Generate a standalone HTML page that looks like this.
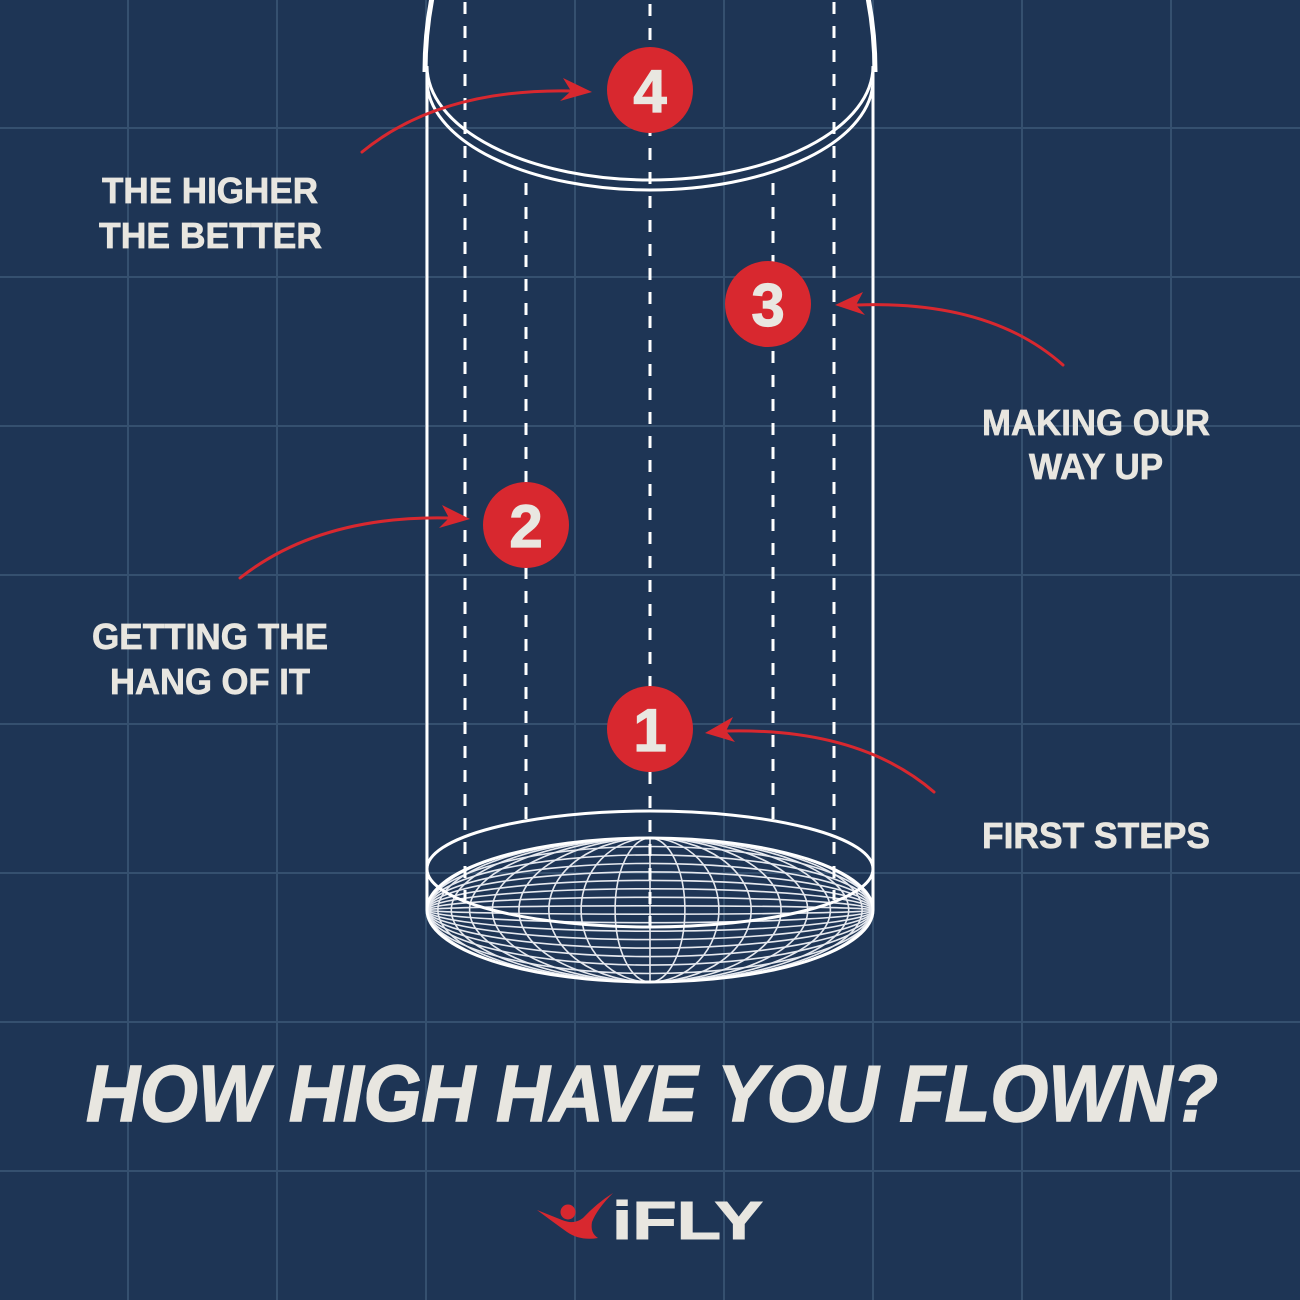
<!DOCTYPE html>
<html>
<head>
<meta charset="utf-8">
<style>
  html, body { margin:0; padding:0; background:#1e3555; }
  svg { display:block; }
  text { font-family: "Liberation Sans", "DejaVu Sans", sans-serif; }
</style>
</head>
<body>
<svg width="1300" height="1300" viewBox="0 0 1300 1300" xmlns="http://www.w3.org/2000/svg">
  <defs>
    <clipPath id="netclip">
      <ellipse cx="650" cy="910" rx="223" ry="72"/>
    </clipPath>
  </defs>
  <rect x="0" y="0" width="1300" height="1300" fill="#1e3555"/>

  <!-- grid -->
  <g stroke="#35506f" stroke-width="2">
    <line x1="128" y1="0" x2="128" y2="1300"/>
    <line x1="277" y1="0" x2="277" y2="1300"/>
    <line x1="426" y1="0" x2="426" y2="1300"/>
    <line x1="575" y1="0" x2="575" y2="1300"/>
    <line x1="724" y1="0" x2="724" y2="1300"/>
    <line x1="873" y1="0" x2="873" y2="1300"/>
    <line x1="1022" y1="0" x2="1022" y2="1300"/>
    <line x1="1171" y1="0" x2="1171" y2="1300"/>
    <line x1="0" y1="128" x2="1300" y2="128"/>
    <line x1="0" y1="277" x2="1300" y2="277"/>
    <line x1="0" y1="426" x2="1300" y2="426"/>
    <line x1="0" y1="575" x2="1300" y2="575"/>
    <line x1="0" y1="724" x2="1300" y2="724"/>
    <line x1="0" y1="873" x2="1300" y2="873"/>
    <line x1="0" y1="1022" x2="1300" y2="1022"/>
    <line x1="0" y1="1171" x2="1300" y2="1171"/>
  </g>

  <!-- net -->
  <g clip-path="url(#netclip)" fill="none" stroke="#e6e9ef" stroke-width="1.6">
    <path d="M427,910 A223,63.5 0 0 1 873,910"/>
    <path d="M427,910 A223,55.1 0 0 1 873,910"/>
    <path d="M427,910 A223,46.6 0 0 1 873,910"/>
    <path d="M427,910 A223,38.1 0 0 1 873,910"/>
    <path d="M427,910 A223,29.6 0 0 1 873,910"/>
    <path d="M427,910 A223,21.2 0 0 1 873,910"/>
    <path d="M427,910 A223,12.7 0 0 1 873,910"/>
    <path d="M427,910 A223,4.2 0 0 1 873,910"/>
    <path d="M427,910 A223,4.2 0 0 0 873,910"/>
    <path d="M427,910 A223,12.7 0 0 0 873,910"/>
    <path d="M427,910 A223,21.2 0 0 0 873,910"/>
    <path d="M427,910 A223,29.6 0 0 0 873,910"/>
    <path d="M427,910 A223,38.1 0 0 0 873,910"/>
    <path d="M427,910 A223,46.6 0 0 0 873,910"/>
    <path d="M427,910 A223,55.1 0 0 0 873,910"/>
    <path d="M427,910 A223,63.5 0 0 0 873,910"/>
    <line x1="650" y1="838" x2="650" y2="982"/>
    <ellipse cx="650" cy="910" rx="34.9" ry="72"/>
    <ellipse cx="650" cy="910" rx="68.9" ry="72"/>
    <ellipse cx="650" cy="910" rx="101.2" ry="72"/>
    <ellipse cx="650" cy="910" rx="131.1" ry="72"/>
    <ellipse cx="650" cy="910" rx="157.7" ry="72"/>
    <ellipse cx="650" cy="910" rx="180.4" ry="72"/>
    <ellipse cx="650" cy="910" rx="198.7" ry="72"/>
    <ellipse cx="650" cy="910" rx="212.1" ry="72"/>
    <ellipse cx="650" cy="910" rx="220.3" ry="72"/>
  </g>

  <!-- cylinder structure -->
  <g fill="none" stroke="#ffffff">
    <path d="M425,72 A225,300 0 0 1 875,72" stroke-width="5"/>
    <path d="M427,66 A223,114 0 0 0 873,66" stroke-width="3"/>
    <path d="M427,80 A223,110 0 0 0 873,80" stroke-width="3"/>
    <line x1="427" y1="66" x2="427" y2="910" stroke-width="3"/>
    <line x1="873" y1="66" x2="873" y2="910" stroke-width="3"/>
    <ellipse cx="650" cy="869" rx="223" ry="58" stroke-width="3"/>
    <ellipse cx="650" cy="910" rx="223" ry="72" stroke-width="3"/>
  </g>

  <!-- dashed lines -->
  <g stroke="#ffffff" stroke-width="3" stroke-dasharray="12 12">
    <line x1="650" y1="0" x2="650" y2="928" stroke-dashoffset="20"/>
    <line x1="465" y1="0" x2="465" y2="900" stroke-dashoffset="22"/>
    <line x1="834" y1="0" x2="834" y2="900" stroke-dashoffset="22"/>
    <line x1="526" y1="183" x2="526" y2="820"/>
    <line x1="773" y1="183" x2="773" y2="820"/>
  </g>

  <!-- arrows -->
  <g fill="none" stroke="#d8282f" stroke-width="3" stroke-linecap="round">
    <path d="M362,152 Q440,88 573,91"/>
    <path d="M1063,365 Q990,300 857,305"/>
    <path d="M240,578 Q320,515 449,518"/>
    <path d="M934,792 Q860,728 727,731"/>
  </g>
  <g fill="#d8282f">
    <polygon points="592,92 563,78 571,91 560,101"/>
    <polygon points="835,305 863,292 856,305 865,315"/>
    <polygon points="470,519 442,505 449,518 439,528"/>
    <polygon points="705,733 733,717 726,731 735,742"/>
  </g>

  <!-- number circles -->
  <g fill="#d8282f">
    <circle cx="650" cy="90" r="43"/>
    <circle cx="768" cy="304" r="43"/>
    <circle cx="526" cy="525" r="43"/>
    <circle cx="650" cy="729" r="43"/>
  </g>
  <g fill="#e9e7e1" stroke="#e9e7e1" stroke-width="1.2" font-weight="bold" font-size="60" text-anchor="middle">
    <text x="650" y="112">4</text>
    <text x="768" y="326">3</text>
    <text x="526" y="547">2</text>
    <text x="650" y="751">1</text>
  </g>

  <!-- labels -->
  <g fill="#e8e6e0" stroke="#e8e6e0" stroke-width="0.7" font-weight="bold" font-size="36">
    <text x="102" y="203" textLength="216" lengthAdjust="spacingAndGlyphs">THE HIGHER</text>
    <text x="99" y="248" textLength="223" lengthAdjust="spacingAndGlyphs">THE BETTER</text>
    <text x="982" y="435" textLength="228" lengthAdjust="spacingAndGlyphs">MAKING OUR</text>
    <text x="1029" y="479" textLength="134" lengthAdjust="spacingAndGlyphs">WAY UP</text>
    <text x="92" y="649" textLength="236" lengthAdjust="spacingAndGlyphs">GETTING THE</text>
    <text x="110" y="694" textLength="200" lengthAdjust="spacingAndGlyphs">HANG OF IT</text>
    <text x="982" y="848" textLength="228" lengthAdjust="spacingAndGlyphs">FIRST STEPS</text>
  </g>

  <!-- title -->
  <text x="86" y="1121" fill="#e8e6e0" stroke="#e8e6e0" stroke-width="1.5" font-weight="bold" font-style="italic" font-size="80" textLength="1132" lengthAdjust="spacingAndGlyphs">HOW HIGH HAVE YOU FLOWN?</text>

  <!-- logo -->
  <path d="M537,1210 L562,1220 Q574,1225 583,1218 Q597,1203 613,1193 Q597,1209 592,1222 Q590,1233 598,1238 Q580,1241 567,1232 Q553,1222 537,1210 Z" fill="#d8282f"/>
  <circle cx="568" cy="1212" r="7.5" fill="#d8282f"/>
  <text x="612" y="1239" fill="#e8e6e0" stroke="#e8e6e0" stroke-width="1" font-weight="bold" font-size="54" textLength="151" lengthAdjust="spacingAndGlyphs">iFLY</text>
</svg>
</body>
</html>
